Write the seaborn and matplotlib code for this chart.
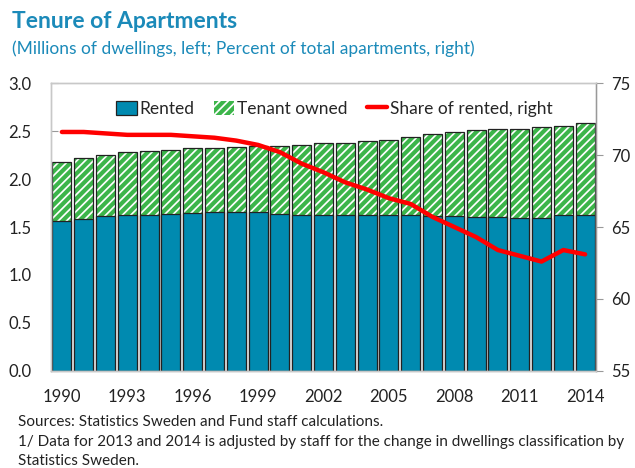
import numpy as np
import pandas as pd
import matplotlib.pyplot as plt
import matplotlib.patches as mpatches
import matplotlib.lines as mlines
from matplotlib.ticker import FixedLocator
import seaborn as sns

# data
years = list(range(1990, 2015))
total = [2.18, 2.22, 2.25, 2.28, 2.29, 2.30, 2.32, 2.32, 2.33, 2.34,
         2.34, 2.35, 2.37, 2.38, 2.40, 2.41, 2.44, 2.47, 2.49, 2.51,
         2.52, 2.52, 2.54, 2.55, 2.58]
rented = [1.56, 1.58, 1.61, 1.63, 1.63, 1.64, 1.65, 1.66, 1.66, 1.66,
          1.64, 1.63, 1.63, 1.63, 1.63, 1.62, 1.62, 1.61, 1.61, 1.60,
          1.60, 1.59, 1.59, 1.62, 1.63]
share = [71.6, 71.6, 71.5, 71.4, 71.4, 71.4, 71.3, 71.2, 71.0, 70.7,
         70.2, 69.4, 68.8, 68.1, 67.6, 67.0, 66.6, 65.7, 65.0, 64.3,
         63.4, 63.0, 62.6, 63.4, 63.1]

df = pd.DataFrame({"year": years, "total": total, "rented": rented, "share": share})

blue = "#008ab0"
green = "#3cb54a"
title_col = "#1b8ab9"

sns.set_style("white")
plt.rcParams["font.family"] = ["Lato", "DejaVu Sans"]
plt.rcParams["hatch.linewidth"] = 3.0

fig = plt.figure(figsize=(6.35, 4.68), dpi=100)
ax = fig.add_axes([0.0803, 0.2073, 0.8583, 0.6153])

# total bars: white with green hatch, then outline, then rented on top
sns.barplot(data=df, x="year", y="total", native_scale=True, width=0.87,
            color="white", hatch="////", edgecolor=green, linewidth=0,
            saturation=1, ax=ax)
sns.barplot(data=df, x="year", y="total", native_scale=True, width=0.87,
            fill=False, edgecolor="#222222", linewidth=0.9, ax=ax)
sns.barplot(data=df, x="year", y="rented", native_scale=True, width=0.87,
            color=blue, edgecolor="#222222", linewidth=0.9, saturation=1, ax=ax)

ax.set_xlim(1989.5, 2014.5)
ax.set_ylim(0, 3.0)
ax.set_yticks(np.arange(0, 3.01, 0.5))
ax.set_yticklabels([f"{v:.1f}" for v in np.arange(0, 3.01, 0.5)])
ax.set_xticks(years[::3])
ax.set_xticklabels([str(y) for y in years[::3]])
ax.xaxis.set_minor_locator(FixedLocator([y + 0.5 for y in years[2::3]]))
ax.set_xlabel("")
ax.set_ylabel("")
ax.tick_params(axis="x", which="major", length=0, labelsize=12, pad=13, labelcolor="#222222")
ax.tick_params(axis="x", which="minor", length=3, direction="in", colors="#bbbbbb", width=1)
ax.tick_params(axis="y", left=True, length=5, direction="in", colors="#999999",
               labelcolor="#222222", labelsize=12, pad=14)

ax2 = ax.twinx()
sns.lineplot(data=df, x="year", y="share", color="#ff0000", linewidth=3.2, ax=ax2)
ax2.set_ylim(55, 75)
ax2.set_yticks(range(55, 76, 5))
ax2.set_ylabel("")
ax2.tick_params(axis="y", right=True, length=5, direction="out", colors="#999999",
                labelsize=12, pad=6, labelcolor="#222222")

for a in (ax, ax2):
    for side, sp in a.spines.items():
        sp.set_visible(True)
        sp.set_color("#c8c8c8")
        sp.set_linewidth(1)
ax2.spines["right"].set_color("#999999")
ax.spines["bottom"].set_color("#aaaaaa")

handles = [
    mpatches.Patch(facecolor=blue, edgecolor="#222222", linewidth=0.9),
    mpatches.Patch(facecolor="white", edgecolor=green, hatch="////", linewidth=0),
    mlines.Line2D([], [], color="#ff0000", linewidth=3.2),
]
leg = ax2.legend(handles, ["Rented", "Tenant owned", "Share of rented, right"],
                 loc="upper center", bbox_to_anchor=(0.52, 0.975), ncol=3, frameon=False,
                 fontsize=12.5, handlelength=1.2, handleheight=0.85, columnspacing=1.1,
                 handletextpad=0.15, borderaxespad=0.2)

fig.text(0.019, 0.955, "Tenure of Apartments", fontsize=16.5, fontweight="bold",
         color=title_col, va="center", ha="left")
fig.text(0.019, 0.895, "(Millions of dwellings, left; Percent of total apartments, right)",
         fontsize=12.5, color=title_col, va="center", ha="left")

fig.text(0.028, 0.099, "Sources: Statistics Sweden and Fund staff calculations.",
         fontsize=11.0, color="#222222", va="center", ha="left")
fig.text(0.028, 0.055, "1/ Data for 2013 and 2014 is adjusted by staff for the change in dwellings classification by",
         fontsize=11.0, color="#222222", va="center", ha="left")
fig.text(0.028, 0.015, "Statistics Sweden.",
         fontsize=11.0, color="#222222", va="center", ha="left")

fig.savefig("out.png", dpi=100)
